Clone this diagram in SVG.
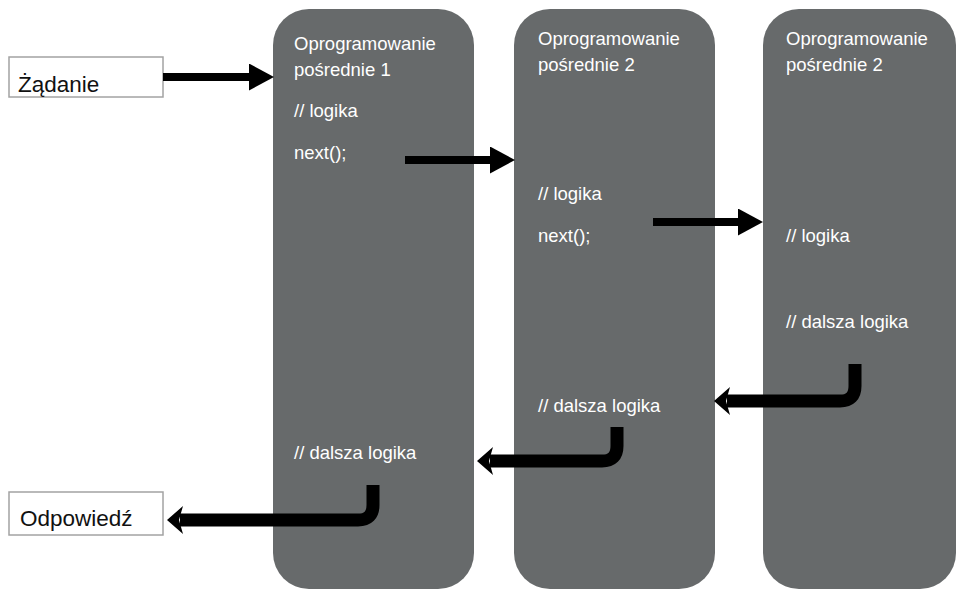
<svg xmlns="http://www.w3.org/2000/svg" width="957" height="589" viewBox="0 0 957 589">
<style>
.col{fill:#676a6b}
.ct{font-family:"Liberation Sans",Arial,sans-serif;font-size:18.5px;fill:#ffffff}
.box{fill:#ffffff;stroke:#a3a3a3;stroke-width:1.5}
.bt{font-family:"Liberation Sans",Arial,sans-serif;font-size:22.5px;fill:#111111}
.sa{fill:none;stroke:#000;stroke-width:8}
.ha{fill:none;stroke:#000;stroke-width:13}
</style>
<defs>
<marker id="ah" markerUnits="userSpaceOnUse" markerWidth="25" markerHeight="27" viewBox="0 0 25 27" refX="0" refY="13.5" orient="auto"><path d="M0,0 L25,13.5 L0,27 z" fill="#000"/></marker>
<marker id="hh" markerUnits="userSpaceOnUse" markerWidth="16" markerHeight="28" viewBox="0 0 16 28" refX="3" refY="14" orient="auto"><path d="M0,0 L16,14 L0,28 L4,14 z" fill="#000"/></marker>
</defs>
<g id="mw1">
<rect class="col" x="273" y="9" width="201" height="580" rx="36"/>
<text class="ct" x="294" y="50">Oprogramowanie</text>
<text class="ct" x="294" y="76">pośrednie 1</text>
<text class="ct" x="294" y="117">// logika</text>
<text class="ct" x="294" y="159">next();</text>
<text class="ct" x="294" y="459">// dalsza logika</text>
</g>
<g id="mw2">
<rect class="col" x="514" y="9" width="201" height="580" rx="36"/>
<text class="ct" x="538" y="45">Oprogramowanie</text>
<text class="ct" x="538" y="71">pośrednie 2</text>
<text class="ct" x="538" y="200">// logika</text>
<text class="ct" x="538" y="242">next();</text>
<text class="ct" x="538" y="412">// dalsza logika</text>
</g>
<g id="mw3">
<rect class="col" x="763" y="9" width="193" height="580" rx="36"/>
<text class="ct" x="786" y="45">Oprogramowanie</text>
<text class="ct" x="786" y="71">pośrednie 2</text>
<text class="ct" x="786" y="242">// logika</text>
<text class="ct" x="786" y="328">// dalsza logika</text>
</g>
<g id="req">
<rect class="box" x="9" y="57" width="154" height="40"/>
<text class="bt" x="18" y="92">Żądanie</text>
</g>
<g id="res">
<rect class="box" x="9" y="492" width="154" height="43"/>
<text class="bt" x="20" y="526">Odpowiedź</text>
</g>
<g id="connectors">
<path class="sa" d="M163,77 H249" marker-end="url(#ah)"/>
<path class="sa" d="M405,160 H490" marker-end="url(#ah)"/>
<path class="sa" d="M653,222 H738" marker-end="url(#ah)"/>
<path class="ha" d="M855,364 V386 Q855,401 840,401 H727" marker-end="url(#hh)"/>
<path class="ha" d="M617,427 V446 Q617,461 602,461 H490" marker-end="url(#hh)"/>
<path class="ha" d="M373,485 V505 Q373,520 358,520 H180" marker-end="url(#hh)"/>
</g>
</svg>
